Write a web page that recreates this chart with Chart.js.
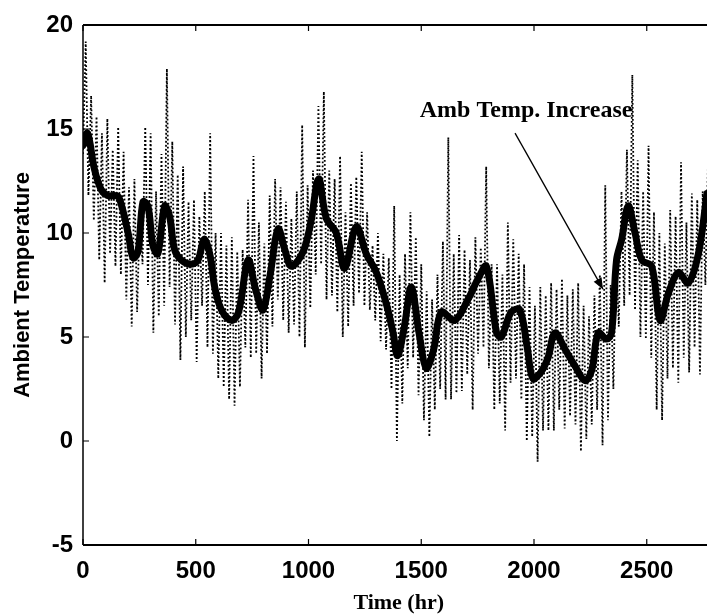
<!DOCTYPE html>
<html>
<head>
<meta charset="utf-8">
<style>
  html, body { margin: 0; padding: 0; overflow: hidden; background: #fff; }
  canvas { display: block; }
</style>
<script src="https://cdn.jsdelivr.net/npm/chart.js@4/dist/chart.umd.min.js"></script>
</head>
<body>
<canvas id="chart" width="720" height="615"></canvas>
<script>
// Hourly ambient temperature record, kept as the daily low / high pair (one value every 12 h).
const RAW_STEP_HR = 12;
const rawTemps = [
  13.8, 19.2, 11.8, 16.6, 10.6, 15.6, 8.7, 14.8, 7.6, 15.5, 9.0, 14.0, 8.4, 15.1, 8.0, 13.9,
  6.8, 12.2, 5.5, 12.6, 6.2, 11.0, 8.5, 15.1, 7.5, 14.8, 5.2, 12.0, 6.0, 13.8, 6.5, 17.9,
  7.4, 14.4, 5.6, 12.8, 3.9, 13.2, 5.0, 11.5, 5.8, 11.6, 3.8, 10.8, 6.5, 12.0, 4.5, 14.8,
  4.2, 10.0, 3.0, 10.0, 2.6, 9.4, 2.0, 9.8, 1.7, 9.1, 2.6, 9.2, 4.5, 11.6, 4.0, 13.7,
  4.2, 10.5, 3.0, 9.5, 4.2, 11.8, 5.5, 12.6, 6.8, 12.2, 5.8, 11.5, 5.2, 10.7, 5.6, 12.0,
  5.0, 15.2, 4.5, 12.3, 6.4, 13.0, 8.0, 16.1, 8.5, 16.8, 6.8, 13.0, 7.0, 12.6, 6.2, 13.7,
  5.0, 11.0, 5.5, 12.4, 6.5, 12.7, 7.1, 13.9, 6.5, 11.0, 6.3, 9.4, 5.8, 10.0, 4.8, 9.0,
  4.4, 8.8, 2.5, 11.3, 0.0, 8.0, 1.8, 9.0, 3.5, 11.0, 4.0, 9.8, 2.2, 8.5, 1.0, 7.2,
  0.2, 6.8, 1.5, 8.0, 2.5, 9.6, 2.0, 14.6, 2.0, 9.0, 2.3, 9.9, 2.4, 9.2, 3.2, 8.7,
  1.5, 9.8, 4.2, 9.3, 4.5, 13.2, 3.5, 8.5, 1.5, 8.5, 1.8, 8.0, 0.5, 10.5, 2.8, 9.7,
  3.0, 9.0, 2.0, 8.5, 0.0, 7.4, 0.2, 6.5, -1.0, 7.4, 0.5, 7.0, 0.5, 7.6, 0.5, 7.3,
  1.5, 7.8, 0.6, 7.0, 1.2, 7.3, 0.8, 7.6, -0.5, 6.5, 0.1, 6.0, 0.8, 7.0, 1.5, 8.0,
  -0.2, 12.3, 1.0, 7.5, 2.5, 9.0, 5.5, 12.0, 6.5, 14.0, 7.0, 17.6, 6.3, 13.5, 5.0, 12.0,
  4.9, 14.2, 4.0, 11.0, 1.5, 10.0, 1.0, 9.5, 3.0, 11.1, 3.5, 10.8, 2.8, 13.4, 4.0, 10.5,
  3.3, 11.9, 4.5, 11.6, 3.2, 12.0, 7.5, 13.6
];

// Smoothed (filtered) ambient temperature.
const smoothHours = [
  0, 20, 50, 80, 110, 140, 160, 200, 222, 244, 266, 288, 310, 332, 362, 384, 406, 436, 480, 510,
  537, 562, 584, 614, 658, 690, 732, 765, 798, 830, 865, 895, 924, 976, 1010, 1045, 1079, 1123, 1160, 1212,
  1256, 1301, 1345, 1375, 1395, 1425, 1456, 1490, 1522, 1555, 1589, 1648, 1707, 1752, 1789, 1834, 1855, 1899, 1937, 1970,
  1995, 2030, 2062, 2093, 2138, 2182, 2226, 2256, 2285, 2322, 2344, 2366, 2389, 2418, 2448, 2478, 2522, 2559, 2596, 2640,
  2684, 2729, 2767
];
const smoothTemps = [
  14.2, 14.8, 13.1, 12.1, 11.8, 11.8, 11.7, 10.0, 8.8, 9.1, 11.5, 11.3, 9.4, 9.0, 11.3, 10.8, 9.2, 8.7, 8.5, 8.7,
  9.7, 9.0, 7.4, 6.3, 5.8, 6.2, 8.7, 7.3, 6.3, 8.0, 10.2, 9.2, 8.4, 9.1, 10.5, 12.6, 10.7, 10.0, 8.3, 10.3,
  9.0, 8.1, 6.6, 5.2, 4.1, 5.5, 7.4, 5.2, 3.5, 4.4, 6.2, 5.8, 6.8, 7.8, 8.4, 5.2, 5.0, 6.2, 6.3, 4.5,
  3.0, 3.3, 4.0, 5.2, 4.4, 3.6, 2.9, 3.4, 5.2, 4.9, 5.2, 8.7, 9.7, 11.3, 10.0, 8.7, 8.4, 5.8, 7.1, 8.1,
  7.6, 9.0, 11.9
];

const xTicks = [0, 500, 1000, 1500, 2000, 2500];
const yTicks = [-5, 0, 5, 10, 15, 20];

// Callout: label position and arrow ends in data units (hours, degrees).
const callout = {
  text: 'Amb Temp. Increase',
  labelAt: [1965, 15.6],
  arrowFrom: [1916, 14.8],
  arrowTo: [2306, 7.3]
};

const rawPoints = rawTemps.map((v, i) => ({ x: i * RAW_STEP_HR, y: v }));
const smoothPoints = smoothHours.map((h, i) => ({ x: h, y: smoothTemps[i] }));

// Box frame with inward tick marks, drawn over the data.
const framePlugin = {
  id: 'frame',
  afterDatasetsDraw(chart) {
    const { ctx, chartArea: a, scales: { x, y } } = chart;
    ctx.save();
    ctx.strokeStyle = '#000';
    ctx.lineCap = 'butt';
    ctx.lineWidth = 2;
    ctx.beginPath();
    ctx.moveTo(a.left, a.top); ctx.lineTo(a.right, a.top);
    ctx.moveTo(a.left, a.bottom); ctx.lineTo(a.right, a.bottom);
    ctx.stroke();
    ctx.lineWidth = 1.5;
    ctx.beginPath();
    ctx.moveTo(a.left, a.top); ctx.lineTo(a.left, a.bottom);
    ctx.moveTo(a.right, a.top); ctx.lineTo(a.right, a.bottom);
    ctx.stroke();
    const len = 6;
    ctx.lineWidth = 1.2;
    ctx.beginPath();
    xTicks.forEach(v => {
      const px = x.getPixelForValue(v);
      ctx.moveTo(px, a.bottom); ctx.lineTo(px, a.bottom - len);
      ctx.moveTo(px, a.top); ctx.lineTo(px, a.top + len);
    });
    yTicks.forEach(v => {
      const py = y.getPixelForValue(v);
      ctx.moveTo(a.left, py); ctx.lineTo(a.left + len, py);
      ctx.moveTo(a.right, py); ctx.lineTo(a.right - len, py);
    });
    ctx.stroke();
    ctx.restore();
  }
};

// Text callout with a thin arrow.
const calloutPlugin = {
  id: 'callout',
  afterDatasetsDraw(chart) {
    const { ctx, scales: { x, y } } = chart;
    const lx = x.getPixelForValue(callout.labelAt[0]);
    const ly = y.getPixelForValue(callout.labelAt[1]);
    const x0 = x.getPixelForValue(callout.arrowFrom[0]);
    const y0 = y.getPixelForValue(callout.arrowFrom[1]);
    const x1 = x.getPixelForValue(callout.arrowTo[0]);
    const y1 = y.getPixelForValue(callout.arrowTo[1]);
    ctx.save();
    ctx.fillStyle = '#000';
    ctx.strokeStyle = '#000';
    ctx.font = 'bold 24px "Liberation Serif", "Times New Roman", serif';
    ctx.textAlign = 'center';
    ctx.textBaseline = 'alphabetic';
    ctx.fillText(callout.text, lx, ly);
    ctx.lineWidth = 1.3;
    ctx.beginPath();
    ctx.moveTo(x0, y0);
    ctx.lineTo(x1, y1);
    ctx.stroke();
    const ang = Math.atan2(y1 - y0, x1 - x0);
    const hl = 11, hw = 4.5;
    ctx.beginPath();
    ctx.moveTo(x1, y1);
    ctx.lineTo(x1 - hl * Math.cos(ang) + hw * Math.sin(ang), y1 - hl * Math.sin(ang) - hw * Math.cos(ang));
    ctx.lineTo(x1 - hl * Math.cos(ang) - hw * Math.sin(ang), y1 - hl * Math.sin(ang) + hw * Math.cos(ang));
    ctx.closePath();
    ctx.fill();
    ctx.restore();
  }
};

const tickFont = { family: '"Liberation Sans", Arial, sans-serif', size: 24, weight: 'bold' };
const plainNumber = v => String(v);

new Chart(document.getElementById('chart'), {
  type: 'line',
  data: {
    datasets: [
      {
        label: 'Smoothed',
        data: smoothPoints,
        borderColor: '#000',
        borderWidth: 7,
        pointRadius: 0,
        tension: 0.35,
        borderJoinStyle: 'round',
        borderCapStyle: 'round',
        fill: false
      },
      {
        label: 'Hourly',
        data: rawPoints,
        borderColor: '#000',
        borderWidth: 1.8,
        borderDash: [1.8, 2.2],
        pointRadius: 0,
        tension: 0,
        fill: false
      }
    ]
  },
  options: {
    responsive: false,
    animation: false,
    devicePixelRatio: 1,
    layout: { padding: { top: 25, right: 5.6, left: 0, bottom: 0 } },
    plugins: {
      legend: { display: false },
      tooltip: { enabled: false }
    },
    scales: {
      x: {
        type: 'linear',
        min: 0,
        max: 2800,
        afterBuildTicks: s => { s.ticks = xTicks.map(v => ({ value: v })); },
        afterFit: s => { s.height = 70; },
        grid: { display: false, drawTicks: false },
        border: { display: false },
        ticks: { color: '#000', font: tickFont, padding: 12, maxRotation: 0, autoSkip: false, callback: plainNumber },
        title: {
          display: true,
          text: 'Time (hr)',
          color: '#000',
          font: { family: '"Liberation Serif", "Times New Roman", serif', size: 22, weight: 'bold' },
          padding: { top: 0, bottom: -2 }
        }
      },
      y: {
        type: 'linear',
        min: -5,
        max: 20,
        afterBuildTicks: s => { s.ticks = yTicks.map(v => ({ value: v })); },
        afterFit: s => { s.width = 83; },
        grid: { display: false, drawTicks: false },
        border: { display: false },
        ticks: { color: '#000', font: tickFont, padding: 10, callback: plainNumber },
        title: {
          display: true,
          text: 'Ambient Temperature',
          color: '#000',
          font: { family: '"Liberation Sans", Arial, sans-serif', size: 22, weight: 'bold' },
          padding: { top: 10, bottom: 0 }
        }
      }
    }
  },
  plugins: [framePlugin, calloutPlugin]
});
</script>
</body>
</html>
